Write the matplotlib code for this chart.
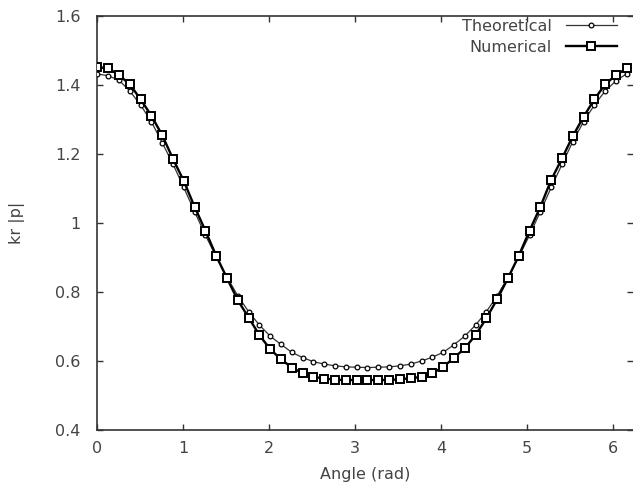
import numpy as np
import matplotlib
matplotlib.use("Agg")
import matplotlib.pyplot as plt

n_points = 50
angle = np.arange(n_points) * 2 * np.pi / 50

theoretical = [1.432, 1.427, 1.414, 1.383, 1.342, 1.294, 1.233, 1.171, 1.103, 1.033,
               0.965, 0.902, 0.843, 0.789, 0.743, 0.704, 0.672, 0.648, 0.625, 0.610,
               0.598, 0.591, 0.586, 0.583, 0.582, 0.581, 0.582, 0.583, 0.586, 0.591,
               0.600, 0.611, 0.625, 0.647, 0.672, 0.704, 0.743, 0.789, 0.843, 0.902,
               0.965, 1.033, 1.103, 1.170, 1.236, 1.294, 1.342, 1.383, 1.412, 1.433]

numerical = [1.452, 1.448, 1.429, 1.402, 1.359, 1.311, 1.255, 1.186, 1.122, 1.047,
             0.978, 0.905, 0.840, 0.776, 0.726, 0.675, 0.634, 0.605, 0.581, 0.564,
             0.554, 0.549, 0.546, 0.545, 0.545, 0.545, 0.545, 0.545, 0.547, 0.550,
             0.554, 0.564, 0.583, 0.609, 0.637, 0.675, 0.724, 0.779, 0.840, 0.905,
             0.978, 1.047, 1.125, 1.187, 1.252, 1.308, 1.359, 1.402, 1.429, 1.448]

xticks = [0, 1, 2, 3, 4, 5, 6]
yticks = [0.4, 0.6, 0.8, 1.0, 1.2, 1.4, 1.6]
yticklabels = ["0.4", "0.6", "0.8", "1", "1.2", "1.4", "1.6"]

plt.rcParams['font.family'] = ['DejaVu Sans']
fig = plt.figure(figsize=(6.33, 4.91), dpi=100)
ax = fig.add_axes([97.3/633, 1 - 430/491, 1 - 97.3/633, (430 - 16)/491])

ax.plot(angle, theoretical, color='#333333', lw=0.9, marker='o', ms=3.4,
        mfc='white', mec='black', mew=0.9, label='Theoretical', zorder=3)
ax.plot(angle, numerical, color='black', lw=1.7, marker='s', ms=5.6,
        mfc='white', mec='black', mew=1.4, label='Numerical', zorder=4)

ax.set_xlim(0, (633 - 97.3) / 86.0)
ax.set_ylim(0.4, 1.6)
ax.set_xticks(xticks)
ax.set_yticks(yticks)
ax.set_yticklabels(yticklabels)

txtc = '#444444'
ax.tick_params(direction='in', length=4, width=1, top=True, right=True,
               labelsize=11.5, labelcolor=txtc, color='#333333')
ax.tick_params(axis='y', pad=12)
ax.tick_params(axis='x', pad=8)
for s in ['left', 'bottom', 'top']:
    ax.spines[s].set_color('#333333')
    ax.spines[s].set_linewidth(1.2)
ax.spines['right'].set_visible(False)

ax.set_xlabel('Angle (rad)', fontsize=11.5, color=txtc, labelpad=8)
ax.set_ylabel('kr |p|', fontsize=11.5, color=txtc, labelpad=22)

leg = ax.legend(loc='upper right', bbox_to_anchor=(0.985, 1.012), frameon=False,
                markerfirst=False, fontsize=11.5, handlelength=3.2,
                handletextpad=0.9, labelspacing=0.35, borderaxespad=0.1)
for t in leg.get_texts():
    t.set_color(txtc)

fig.savefig('out.png', dpi=100)
